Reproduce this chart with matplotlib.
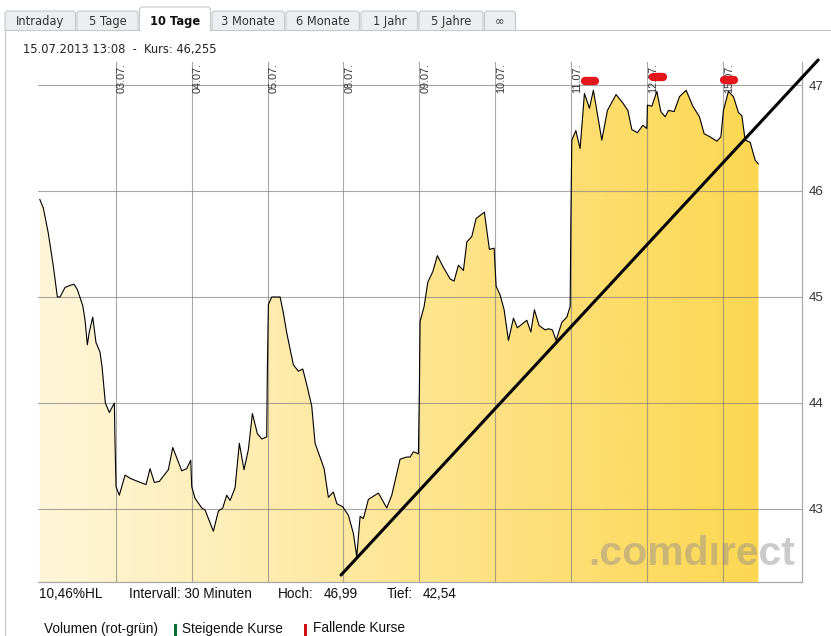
import numpy as np
import matplotlib
matplotlib.use("Agg")
import matplotlib.pyplot as plt
from matplotlib.colors import LinearSegmentedColormap
from matplotlib.patches import Polygon, FancyBboxPatch

# ---------------------------------------------------------------- data
# time axis in trading days: 0 = open 02.07., 1 = open 03.07., ...
t = [0.000, 0.046, 0.112, 0.178, 0.231, 0.266, 0.332, 0.398, 0.451, 0.494,
     0.565, 0.596, 0.626, 0.652, 0.697, 0.740, 0.793, 0.820, 0.863, 0.916,
     0.982, 0.991, 1.004, 1.047, 1.123, 1.188, 1.254, 1.399, 1.452, 1.509,
     1.574, 1.693, 1.751, 1.870, 1.935, 1.988, 2.001, 2.045, 2.133, 2.177,
     2.286, 2.352, 2.410, 2.462, 2.506, 2.572, 2.628, 2.690, 2.747, 2.800,
     2.866, 2.924, 2.989, 2.997, 3.011, 3.055, 3.165, 3.208, 3.253, 3.340,
     3.406, 3.464, 3.517, 3.582, 3.626, 3.745, 3.801, 3.867, 3.912, 3.991,
     4.065, 4.130, 4.175, 4.219, 4.262, 4.328, 4.460, 4.570, 4.636, 4.746,
     4.834, 4.878, 4.921, 4.987, 5.000, 5.009, 5.062, 5.111, 5.177, 5.237,
     5.316, 5.405, 5.457, 5.514, 5.580, 5.625, 5.690, 5.747, 5.856, 5.922,
     5.984, 6.011, 6.063, 6.116, 6.173, 6.239, 6.291, 6.415, 6.468, 6.515,
     6.577, 6.656, 6.700, 6.752, 6.801, 6.876, 6.942, 6.986, 6.995, 7.008,
     7.061, 7.117, 7.174, 7.240, 7.292, 7.403, 7.477, 7.591, 7.680, 7.746,
     7.798, 7.872, 7.943, 7.996, 8.004, 8.062, 8.128, 8.180, 8.237, 8.281,
     8.356, 8.426, 8.514, 8.602, 8.689, 8.751, 8.830, 8.918, 8.971, 9.005,
     9.071, 9.137, 9.203, 9.248, 9.291, 9.357, 9.423, 9.466]
kurs = [45.92, 45.84, 45.60, 45.29, 45.00, 45.00, 45.09, 45.11, 45.12, 45.07,
        44.92, 44.78, 44.55, 44.67, 44.81, 44.57, 44.48, 44.34, 44.00, 43.91,
        44.00, 43.62, 43.21, 43.13, 43.32, 43.29, 43.27, 43.23, 43.38, 43.25,
        43.26, 43.37, 43.58, 43.36, 43.38, 43.46, 43.21, 43.10, 43.01, 42.99,
        42.79, 42.98, 43.01, 43.13, 43.08, 43.20, 43.62, 43.37, 43.56, 43.90,
        43.71, 43.66, 43.68, 44.31, 44.93, 45.00, 45.00, 44.85, 44.66, 44.36,
        44.30, 44.32, 44.17, 43.97, 43.62, 43.38, 43.11, 43.16, 43.05, 43.02,
        42.94, 42.77, 42.55, 42.93, 42.91, 43.09, 43.15, 43.01, 43.13, 43.47,
        43.49, 43.49, 43.54, 43.52, 44.13, 44.77, 44.91, 45.14, 45.24, 45.39,
        45.28, 45.17, 45.15, 45.30, 45.25, 45.52, 45.57, 45.74, 45.80, 45.45,
        45.46, 45.10, 45.02, 44.88, 44.59, 44.80, 44.71, 44.78, 44.67, 44.88,
        44.73, 44.69, 44.70, 44.69, 44.59, 44.76, 44.81, 44.91, 45.71, 46.48,
        46.57, 46.40, 46.92, 46.78, 46.95, 46.48, 46.76, 46.91, 46.83, 46.76,
        46.58, 46.55, 46.62, 46.59, 46.81, 46.80, 46.94, 46.75, 46.70, 46.76,
        46.75, 46.89, 46.95, 46.80, 46.70, 46.54, 46.51, 46.47, 46.51, 46.76,
        46.94, 46.89, 46.74, 46.71, 46.48, 46.46, 46.29, 46.255]

day_pos = [1, 2, 3, 4, 5, 6, 7, 8, 9]
day_labels = ["03.07.", "04.07.", "05.07.", "08.07.", "09.07.",
              "10.07.", "11.07.", "12.07.", "15.07."]
price_ticks = [43, 44, 45, 46, 47]

# hand-drawn annotations: trend line and the red marks at the highs
trend_t = [3.968, 10.253]
trend_p = [42.377, 47.236]
marks_t = [7.249, 8.145, 9.080]
marks_p = [47.038, 47.075, 47.050]

hoch, tief = 46.99, 42.54
stand = "15.07.2013 13:08"
tabs = ["Intraday", "5 Tage", "10 Tage", "3 Monate", "6 Monate",
        "1 Jahr", "5 Jahre", "\u221e"]

XLIM = (-0.024, 10.04)
YLIM = (42.311, 47.217)
W, H = 831, 636


def de(v, nd=2):
    return f"{v:.{nd}f}".replace(".", ",")


fig = plt.figure(figsize=(W / 100, H / 100), dpi=100)

# ---------------------------------------------------------------- page chrome
ui = fig.add_axes([0, 0, 1, 1], zorder=0)
ui.set_xlim(0, W)
ui.set_ylim(H, 0)
ui.axis("off")

tab_x = [5, 77, 139.5, 212, 286, 361, 419, 484.5, 517]
for i, name in enumerate(tabs):
    x0, x1 = tab_x[i], tab_x[i + 1] - 1.5
    active = name == "10 Tage"
    top = 7 if active else 11
    ui.add_patch(FancyBboxPatch((x0, top), x1 - x0, 30 - top + 3,
                                boxstyle="round,pad=0,rounding_size=3",
                                fc="white" if active else "#ECEFF2",
                                ec="#C4C8CC", lw=0.8, zorder=1 if active else 0))
    ui.text((x0 + x1) / 2, 21.5, name, ha="center", va="center",
            fontsize=8.3, family="DejaVu Sans",
            fontweight="bold" if active else "normal",
            color="#111111" if active else "#333333", zorder=3)
ui.add_patch(plt.Rectangle((0, 29.5), W, H, fc="white", ec="none", zorder=1.5))
ui.plot([5, 139.5], [29.5, 29.5], color="#C8C8C8", lw=0.8, zorder=2)
ui.plot([210, W], [29.5, 29.5], color="#C8C8C8", lw=0.8, zorder=2)
ui.plot([5, 5], [29.5, H], color="#C8C8C8", lw=0.8, zorder=2)

ui.text(23, 50, f"{stand}  -  Kurs: {de(kurs[-1], 3)}", ha="left", va="center",
        fontsize=8.3, family="DejaVu Sans", color="#222222", zorder=3)

hl = (hoch - tief) / tief * 100
foot = dict(va="center", fontsize=9.8, family="Liberation Sans",
            color="#111111", zorder=3)
ui.text(39, 594.5, f"{de(hl)}%HL", **foot)
ui.text(129, 594.5, "Intervall: 30 Minuten", **foot)
ui.text(278, 594.5, "Hoch:", **foot)
ui.text(324, 594.5, de(hoch), **foot)
ui.text(386.5, 594.5, "Tief:", **foot)
ui.text(423, 594.5, de(tief), **foot)
ui.text(44.5, 628.5, "Volumen (rot-grün)", **foot)
ui.add_patch(plt.Rectangle((174, 623.5), 2.7, 13, fc="#0B6B35", ec="none", zorder=3))
ui.text(182.5, 628.5, "Steigende Kurse", **foot)
ui.add_patch(plt.Rectangle((304.3, 623.5), 2.5, 13, fc="#CC1111", ec="none", zorder=3))
ui.text(313, 628.5, "Fallende Kurse", **foot)

# ---------------------------------------------------------------- chart
ax = fig.add_axes([38 / W, 1 - 582 / H, 764 / W, 520 / H], zorder=1)
ax.patch.set_alpha(0)

cmap = LinearSegmentedColormap.from_list(
    "gold", ["#FFF6DA", "#FEEBAA", "#FDDF78", "#FDD64A"])
grad = np.linspace(0, 1, 512).reshape(1, -1)
img = ax.imshow(grad, extent=[XLIM[0], XLIM[1], YLIM[0], YLIM[1]],
                aspect="auto", cmap=cmap, zorder=0.5, interpolation="bilinear")
verts = [(t[0], YLIM[0])] + list(zip(t, kurs)) + [(t[-1], YLIM[0])]
area = Polygon(verts, closed=True, fc="none", ec="none", transform=ax.transData)
ax.add_patch(area)
img.set_clip_path(area)

ax.plot(t, kurs, color="black", lw=0.8, zorder=3)

ax.set_xlim(*XLIM)
ax.set_ylim(*YLIM)

ax.set_xticks(day_pos)
ax.set_yticks(price_ticks)
ax.grid(True, color="#7A7A7A", alpha=0.65, lw=0.8)
ax.set_axisbelow(False)
ax.tick_params(axis="x", length=0, labelbottom=False)
ax.yaxis.tick_right()
ax.tick_params(axis="y", length=0, pad=4.5, labelsize=9.6, labelcolor="#333333")
for lab in ax.get_yticklabels():
    lab.set_family("Liberation Sans")
for d, lab in zip(day_pos, day_labels):
    ax.text(d + 0.083, 0.998, lab, rotation=90, ha="center", va="top",
            transform=ax.get_xaxis_transform(), fontsize=7.8,
            family="Liberation Sans", color="#333333", zorder=4)

for s in ["left", "top"]:
    ax.spines[s].set_visible(False)
for s in ["right", "bottom"]:
    ax.spines[s].set_color("#A8A8A8")
    ax.spines[s].set_linewidth(0.9)

ax.text(0.72, 0.033, ".comd\u0131rect", transform=ax.transAxes,
        ha="left", va="baseline", fontsize=29.5, fontweight="bold",
        family="Liberation Sans", color="#8C8C8C", alpha=0.45, zorder=2.6)

for mt, mp in zip(marks_t, marks_p):
    ax.plot([mt - 0.07, mt + 0.07], [mp, mp], color="#E3161E", lw=6,
            solid_capstyle="round", clip_on=False, zorder=5)
ax.plot(trend_t, trend_p, color="black", lw=2.2, clip_on=False, zorder=6,
        solid_capstyle="round")

fig.savefig("out.png", dpi=100)
